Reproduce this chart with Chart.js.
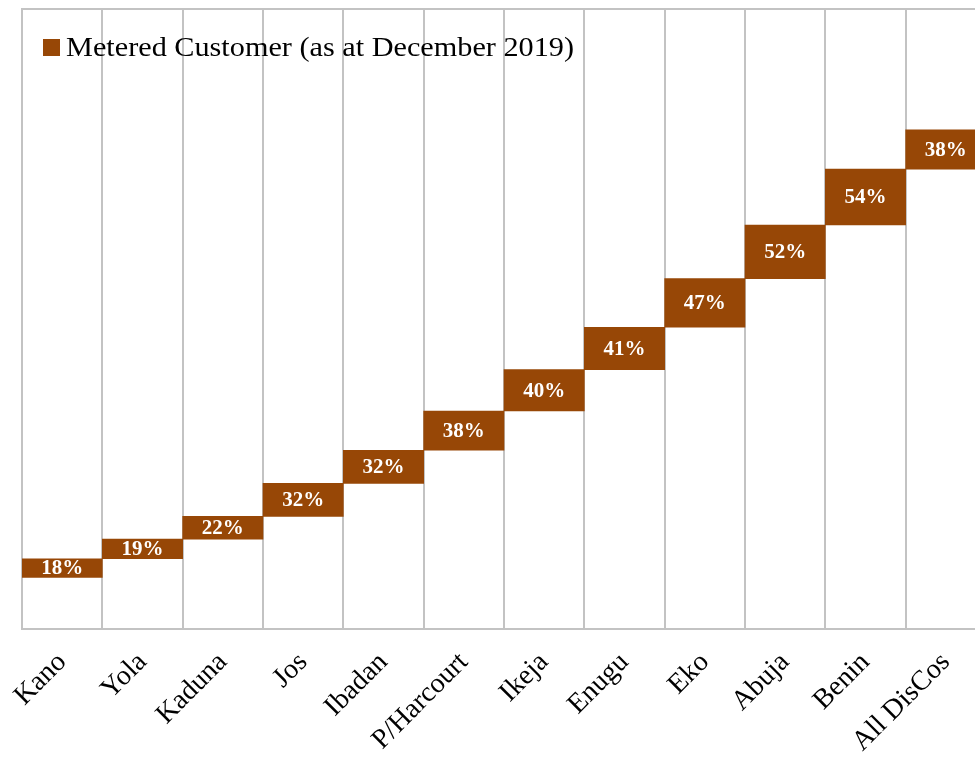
<!DOCTYPE html>
<html>
<head>
<meta charset="utf-8">
<script src="https://cdn.jsdelivr.net/npm/chart.js@4"></script>
<style>
  body { margin: 0; overflow: hidden; background: #fff; }
  #wrap { position: relative; width: 990px; height: 763px; }
  #legend {
    position: absolute; left: 43px; top: 31px;
    font-family: "Liberation Serif", serif; font-size: 28px; color: #000;
    display: flex; align-items: center; white-space: nowrap;
  }
  #legend .swatch { width: 17px; height: 17px; background: #974706; margin-right: 6px; }
  #legend .text { display: inline-block; transform: scaleX(1.08); transform-origin: left center; }
</style>
</head>
<body>
<div id="wrap">
  <canvas id="meterChart"></canvas>
  <div id="legend"><span class="swatch"></span><span class="text">Metered Customer (as at December 2019)</span></div>
</div>
<script>
// Metered customers share per DisCo, December 2019
const categories = ['Kano', 'Yola', 'Kaduna', 'Jos', 'Ibadan', 'P/Harcourt', 'Ikeja', 'Enugu', 'Eko', 'Abuja', 'Benin', 'All DisCos'];
const meteredShare = [18, 19, 22, 32, 32, 38, 40, 41, 47, 52, 54, 38];
const baseline = 50;
const yMax = 600;

// each step starts where the previous one ended
const ranges = [];
let running = baseline;
meteredShare.forEach(function (v) {
    ranges.push([running, running + v]);
    running += v;
});

const gridGray = '#c3c3c3';

const stepLabels = {
    id: 'stepLabels',
    afterDatasetsDraw: function (chart) {
        const ctx = chart.ctx;
        const meta = chart.getDatasetMeta(0);
        ctx.save();
        ctx.fillStyle = '#ffffff';
        ctx.font = 'bold 21px "Liberation Serif", serif';
        ctx.textAlign = 'center';
        ctx.textBaseline = 'middle';
        meta.data.forEach(function (bar, i) {
            ctx.fillText(meteredShare[i] + '%', bar.x, (bar.y + bar.base) / 2 + 1);
        });
        ctx.restore();
    }
};

const ctx = document.getElementById('meterChart').getContext('2d');
new Chart(ctx, {
    type: 'bar',
    data: {
        labels: categories,
        datasets: [{
            label: 'Metered Customer (as at December 2019)',
            data: ranges,
            backgroundColor: '#974706',
            borderWidth: 0,
            barPercentage: 1,
            categoryPercentage: 1
        }]
    },
    options: {
        responsive: true,
        maintainAspectRatio: false,
        animation: false,
        layout: { padding: { top: 9, right: 4, left: 0, bottom: 0 } },
        plugins: {
            legend: { display: false },
            tooltip: { enabled: false }
        },
        scales: {
            x: {
                offset: true,
                grid: { offset: true, color: gridGray, lineWidth: 2, drawTicks: false },
                border: { color: gridGray, width: 2 },
                ticks: {
                    color: '#000',
                    font: { family: '"Liberation Serif", serif', size: 28 },
                    minRotation: 45,
                    maxRotation: 45,
                    padding: 17
                },
                afterFit: function (scale) { scale.height = 134; }
            },
            y: {
                min: 0,
                max: yMax,
                ticks: { display: false, stepSize: 100 },
                grid: {
                    drawTicks: false,
                    lineWidth: 2,
                    color: function (c) { return c.tick && c.tick.value === yMax ? gridGray : 'transparent'; }
                },
                border: { color: gridGray, width: 2 },
                afterFit: function (scale) { scale.width = 22; }
            }
        }
    },
    plugins: [stepLabels]
});
</script>
</body>
</html>
